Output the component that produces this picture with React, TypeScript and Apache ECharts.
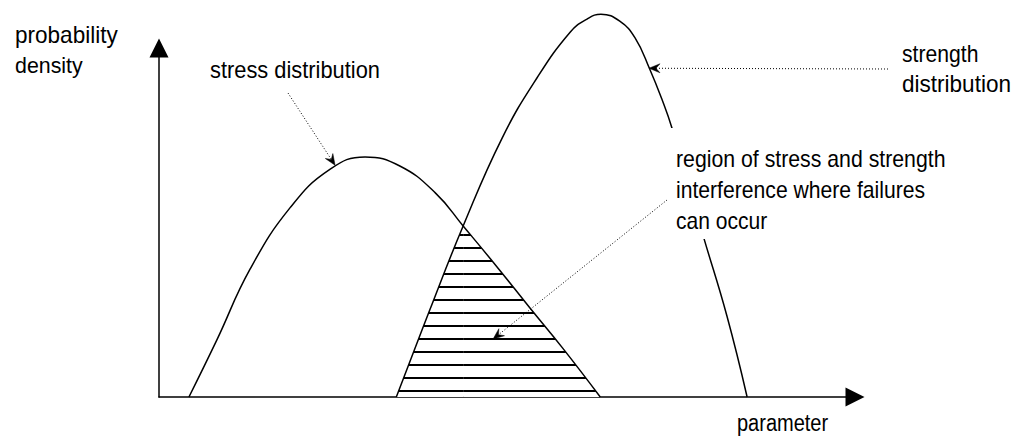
import React, { useEffect, useRef } from 'react';
import * as echarts from 'echarts';

// ---- data (parameter on x, probability density on y, arbitrary units) ----
const stressX = [4.3, 8.3, 13.1, 18.9, 24.6, 29.6, 34.6, 39.7, 43.7, 48.6, 53.3, 58.0, 63.4];
const stressY = [0, 16.3, 36.7, 54.4, 65.3, 68.8, 66.2, 58.5, 49.0, 37.2, 25.5, 14.0, 0];
const strengthX = [34.1, 38.9, 43.7, 49.3, 54.3, 59.1, 61.5, 63.5, 66.2, 68.4, 70.5, 72.3, 73.7, 78.2, 81.6, 84.5];
const strengthY = [0, 24.9, 49.0, 74.2, 91.4, 104.6, 108.3, 109.7, 107.7, 102.9, 94.0, 85.1, 77.1, 46.1, 23.2, 0];
// index of the crossing point in each curve
const strengthCrossIndex = 2;
const stressCrossIndex = 8;

// ---- labels ----
const yAxisTitle = ['probability', 'density'];
const xAxisTitle = 'parameter';
const stressLabel = 'stress distribution';
const strengthLabel = ['strength', 'distribution'];
const regionLabel = ['region of stress and strength', 'interference where failures', 'can occur'];

// leader arrow tips, in data units (points on the curves / inside the region)
const stressTip = [25.3, 66.4];
const strengthTip = [70.4, 94.2];
const regionTip = [48.0, 16.6];

const FONT = '"Liberation Sans", Arial, Helvetica, sans-serif';
const FS = 23;

function arrowHead(tip: number[], tail: number[], L = 11, W = 4.5, notch = 7) {
  const dx = tip[0] - tail[0];
  const dy = tip[1] - tail[1];
  const len = Math.hypot(dx, dy) || 1;
  const ux = dx / len, uy = dy / len;
  const px = -uy, py = ux;
  return {
    head: [
      [tip[0], tip[1]],
      [tip[0] - L * ux + W * px, tip[1] - L * uy + W * py],
      [tip[0] - notch * ux, tip[1] - notch * uy],
      [tip[0] - L * ux - W * px, tip[1] - L * uy - W * py],
    ],
    lineEnd: [tip[0] - notch * ux, tip[1] - notch * uy],
  };
}

export default function App() {
  const ref = useRef<HTMLDivElement>(null);
  useEffect(() => {
    if (!ref.current) return;
    const chart = echarts.init(ref.current, null, { renderer: 'svg' });
    const pts = (xs: number[], ys: number[]) => xs.map((x, i) => [x, ys[i]]);
    const stress = pts(stressX, stressY);
    const strength = pts(strengthX, strengthY);
    // interference region = under the rising strength branch up to the crossing,
    // then under the falling stress branch after the crossing
    const overlapLeft = strength.slice(0, strengthCrossIndex + 1);
    const overlapRight = stress.slice(stressCrossIndex);
    const axisCommon = {
      type: 'value' as const,
      min: 0,
      max: 100,
      axisLine: {
        show: true,
        symbol: ['none', 'triangle'],
        symbolSize: [19, 19],
        lineStyle: { color: '#000', width: 1.5 },
      },
      axisTick: { show: false },
      axisLabel: { show: false },
      splitLine: { show: false },
    };
    const SMOOTH = 0.45;
    const hatch = {
      type: 'line',
      smooth: SMOOTH,
      symbol: 'none',
      clip: false,
      z: 1,
      silent: true,
      lineStyle: { width: 0, opacity: 0 },
      areaStyle: { color: '#fff', opacity: 1 },
      itemStyle: {
        color: '#000',
        decal: {
          symbol: 'rect',
          symbolSize: 1,
          color: '#000',
          backgroundColor: '#fff',
          dashArrayX: [1, 0],
          dashArrayY: [1.6, 10.4],
          rotation: 0,
        },
      },
    };
    chart.setOption({
      animation: false,
      backgroundColor: '#fff',
      grid: { left: 159, right: 163, top: 48, bottom: 41 },
      xAxis: { ...axisCommon },
      yAxis: { ...axisCommon },
      series: [
        { ...hatch, name: 'interference (left)', data: overlapLeft },
        { ...hatch, name: 'interference (right)', data: overlapRight },
        {
          type: 'line',
          name: 'stress distribution',
          data: stress,
          smooth: SMOOTH,
          symbol: 'none',
          clip: false,
          z: 3,
          lineStyle: { color: '#000', width: 1.5 },
        },
        {
          type: 'line',
          name: 'strength distribution',
          data: strength,
          smooth: SMOOTH,
          symbol: 'none',
          clip: false,
          z: 3,
          lineStyle: { color: '#000', width: 1.5 },
        },
      ],
    });

    const toPx = (p: number[]) => chart.convertToPixel({ gridIndex: 0 }, p) as number[];
    const text = (t: string, x: number, baseline: number, sx: number) => ({
      type: 'text',
      z: 110,
      x,
      y: baseline - FS * 0.3465,
      scaleX: sx,
      style: {
        text: t,
        x: 0,
        y: 0,
        fill: '#000',
        fontSize: FS,
        fontFamily: FONT,
        align: 'left',
        verticalAlign: 'middle',
      },
    });
    const leader = (tipData: number[], tail: number[]) => {
      const tip = toPx(tipData);
      const a = arrowHead(tip, tail);
      return [
        {
          type: 'line',
          z: 120,
          shape: { x1: tail[0], y1: tail[1], x2: a.lineEnd[0], y2: a.lineEnd[1] },
          style: { stroke: '#000', lineWidth: 1, lineDash: [1, 2] },
        },
        {
          type: 'polygon',
          z: 121,
          shape: { points: a.head },
          style: { fill: '#000', stroke: '#000', lineWidth: 0.5 },
        },
      ];
    };

    const graphic: any[] = [
      // white backing for the region label (interrupts the strength curve)
      { type: 'rect', z: 100, shape: { x: 664, y: 128, width: 290, height: 111 }, style: { fill: '#fff' } },
      text(yAxisTitle[0], 15, 43, 0.98),
      text(yAxisTitle[1], 15, 73, 0.93),
      text(stressLabel, 210, 78, 0.95),
      text(strengthLabel[0], 902, 62, 0.92),
      text(strengthLabel[1], 902, 92, 0.98),
      text(regionLabel[0], 676, 167, 0.925),
      text(regionLabel[1], 676, 198, 0.92),
      text(regionLabel[2], 676, 229, 0.915),
      text(xAxisTitle, 737, 431, 0.87),
      ...leader(stressTip, [288, 93]),
      ...leader(strengthTip, [888, 69]),
      ...leader(regionTip, [667, 200]),
    ];
    chart.setOption({ graphic });

    return () => chart.dispose();
  }, []);
  return (
    <div
      ref={ref}
      style={{ position: 'fixed', left: 0, top: 0, width: 1018, height: 438, background: '#fff' }}
    />
  );
}
